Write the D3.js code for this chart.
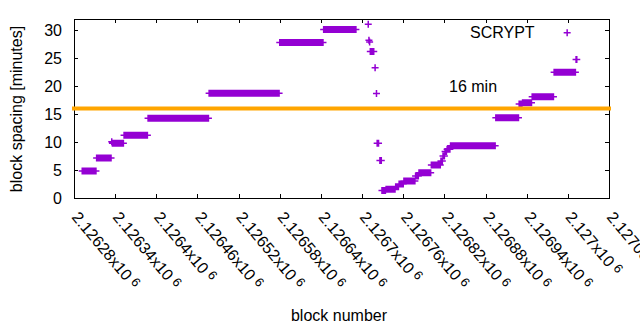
<!DOCTYPE html>
<html><head><meta charset="utf-8">
<script src="https://cdn.jsdelivr.net/npm/d3@7"></script>
<style>
html,body{margin:0;padding:0;background:#fff;}
svg text{font-family:"Liberation Sans",Arial,Helvetica,sans-serif;font-size:16px;fill:#000;}
</style></head><body>
<svg id="c" width="640" height="330"></svg>
<script>
// Runs of consecutive blocks sharing the same spacing value (one "+" per block)
const runStart = [2126292, 2126313, 2126336, 2126353, 2126388, 2126477, 2126580, 2126644,
  2126712, 2126722, 2126726,
  2126729, 2126735, 2126749, 2126754, 2126761, 2126778, 2126783, 2126801, 2126815, 2126818, 2126821, 2126824,
  2126829, 2126895, 2126929, 2126934, 2126948, 2126980, 2127012];
const runEnd = [2126312, 2126334, 2126352, 2126387, 2126476, 2126579, 2126643, 2126691,
  2126717, 2126724, 2126728,
  2126734, 2126748, 2126753, 2126760, 2126777, 2126782, 2126800, 2126814, 2126817, 2126820, 2126823, 2126828,
  2126894, 2126928, 2126933, 2126947, 2126979, 2127011, 2127013];
const runValue = [4.81, 7.13, 9.8, 11.23, 14.26, 18.72, 27.8, 30.12,
  26.2, 9.8, 6.7,
  1.35, 1.55, 2.0, 2.5, 3.03, 3.93, 4.52, 5.9, 6.6, 7.5, 8.3, 8.7,
  9.36, 14.36, 16.8, 17.05, 18.1, 22.46, 24.78];
// Isolated points
const pointBlock = [2126335, 2126709, 2126710, 2126711, 2126719, 2126721, 2126999];
const pointValue = [10.05, 31.07, 28.2, 27.9, 23.3, 18.7, 29.53];

const xTicks = [2126280, 2126340, 2126400, 2126460, 2126520, 2126580, 2126640, 2126700,
  2126760, 2126820, 2126880, 2126940, 2127000, 2127060];
const xTickLabels = ["2.12628", "2.12634", "2.1264", "2.12646", "2.12652", "2.12658", "2.12664",
  "2.1267", "2.12676", "2.12682", "2.12688", "2.12694", "2.127", "2.12706"];
const yTicks = [0, 5, 10, 15, 20, 25, 30];
const thresholdValue = 16;
const thresholdLabel = "16 min";
const seriesTitle = "SCRYPT";
const xTitle = "block number";
const yTitle = "block spacing [minutes]";

const svg = d3.select("#c");
const L = 74, R = 609, T = 19, B = 198;
const x = d3.scaleLinear().domain([2126280, 2127060]).range([L, R]);
const y = d3.scaleLinear().domain([0, 32]).range([B, T]);

// Axes (inward ticks, mirrored)
function styleAxis(g) {
  g.select(".domain").remove();
  g.selectAll(".tick line").attr("stroke", "#000").attr("shape-rendering", "crispEdges");
}
svg.append("g").attr("transform", `translate(0,${B})`)
  .call(d3.axisBottom(x).tickValues(xTicks).tickSize(-4).tickSizeOuter(0).tickFormat(""))
  .call(styleAxis);
svg.append("g").attr("transform", `translate(0,${T})`)
  .call(d3.axisTop(x).tickValues(xTicks).tickSize(-4).tickSizeOuter(0).tickFormat(""))
  .call(styleAxis);
const yl = svg.append("g").attr("transform", `translate(${L},0)`)
  .call(d3.axisLeft(y).tickValues(yTicks).tickSize(-4).tickSizeOuter(0).tickPadding(12))
  .call(styleAxis);
yl.selectAll(".tick text").attr("font-size", 16).attr("font-family", null).attr("fill", "#000");
svg.append("g").attr("transform", `translate(${R},0)`)
  .call(d3.axisRight(y).tickValues(yTicks).tickSize(-4).tickSizeOuter(0).tickFormat(""))
  .call(styleAxis);

svg.append("rect").attr("x", L).attr("y", T).attr("width", R - L).attr("height", B - T)
  .attr("fill", "none").attr("stroke", "#000").attr("stroke-width", 1).attr("shape-rendering", "crispEdges");

// X tick labels, rotated
xTicks.forEach((t, i) => {
  const g = svg.append("g").attr("transform", `translate(${x(t)},215) rotate(50)`);
  const tx = g.append("text").attr("text-anchor", "start").attr("dy", "0.25em");
  tx.append("tspan").text(xTickLabels[i] + "x10");
  tx.append("tspan").attr("dx", 4).attr("dy", -4).attr("font-size", 12.8).text("6");
});

// Points
const pts = [];
runStart.forEach((s, i) => {
  d3.range(s, runEnd[i] + 1).forEach(b => pts.push([b, runValue[i]]));
});
pointBlock.forEach((b, i) => pts.push([b, pointValue[i]]));
const h = 3.5;
const d = pts.map(([b, v]) => {
  const px = x(b), py = y(v);
  return `M${px - h},${py}H${px + h}M${px},${py - h}V${py + h}`;
}).join("");
svg.append("path").attr("d", d).attr("fill", "none").attr("stroke", "#9400d3").attr("stroke-width", 1.5);

// Threshold line
svg.append("line").attr("x1", x.range()[0]).attr("x2", x.range()[1])
  .attr("y1", y(thresholdValue)).attr("y2", y(thresholdValue))
  .attr("stroke", "#ffa500").attr("stroke-width", 4).attr("stroke-linecap", "square");

// Labels
svg.append("text").attr("x", 449).attr("y", 92).text(thresholdLabel);
svg.append("text").attr("x", 470).attr("y", 37.5).text(seriesTitle);
svg.append("text").attr("x", 339).attr("y", 320.5).attr("text-anchor", "middle").text(xTitle);
svg.append("text").attr("transform", "translate(22,109) rotate(-90)").attr("text-anchor", "middle").text(yTitle);
</script>
</body></html>
